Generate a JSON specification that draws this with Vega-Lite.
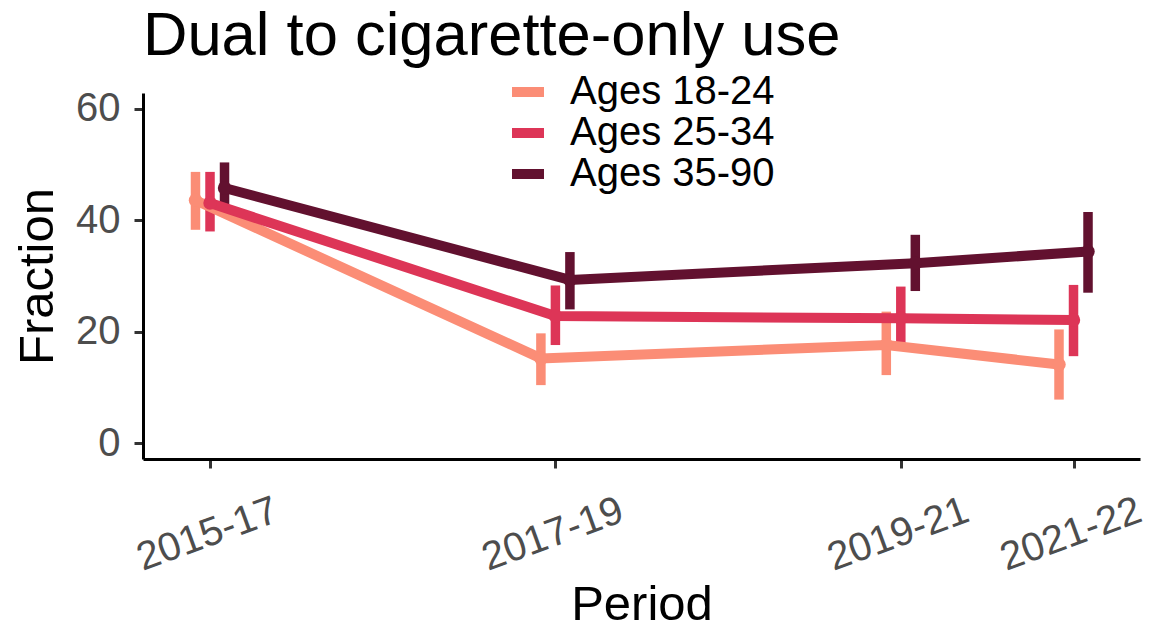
{
  "$schema": "https://vega.github.io/schema/vega-lite/v6.json",
  "width": 997,
  "height": 366,
  "autosize": {"type": "none"},
  "padding": {"left": 143, "top": 93, "right": 13, "bottom": 167},
  "background": "white",
  "config": {
    "view": {"stroke": null},
    "font": "Liberation Sans"
  },
  "title": {
    "text": "Dual to cigarette-only use",
    "anchor": "start",
    "frame": "group",
    "fontSize": 61.5,
    "fontWeight": "normal",
    "color": "black",
    "font": "Liberation Sans",
    "baseline": "alphabetic",
    "offset": -45
  },
  "data": {
    "values": [
      {"period": "2015-17", "mid": 2016, "group": "Ages 18-24", "est": 43.6, "lo": 38.3, "hi": 48.7},
      {"period": "2017-19", "mid": 2018, "group": "Ages 18-24", "est": 15.2, "lo": 10.4, "hi": 19.7},
      {"period": "2019-21", "mid": 2020, "group": "Ages 18-24", "est": 17.6, "lo": 12.2, "hi": 23.6},
      {"period": "2021-22", "mid": 2021, "group": "Ages 18-24", "est": 14.1, "lo": 7.8, "hi": 20.4},
      {"period": "2015-17", "mid": 2016, "group": "Ages 25-34", "est": 43.1, "lo": 38.0, "hi": 48.7},
      {"period": "2017-19", "mid": 2018, "group": "Ages 25-34", "est": 22.8, "lo": 17.6, "hi": 28.3},
      {"period": "2019-21", "mid": 2020, "group": "Ages 25-34", "est": 22.4, "lo": 16.7, "hi": 28.1},
      {"period": "2021-22", "mid": 2021, "group": "Ages 25-34", "est": 22.1, "lo": 15.6, "hi": 28.4},
      {"period": "2015-17", "mid": 2016, "group": "Ages 35-90", "est": 45.8, "lo": 41.0, "hi": 50.4},
      {"period": "2017-19", "mid": 2018, "group": "Ages 35-90", "est": 29.3, "lo": 24.0, "hi": 34.3},
      {"period": "2019-21", "mid": 2020, "group": "Ages 35-90", "est": 32.3, "lo": 27.3, "hi": 37.4},
      {"period": "2021-22", "mid": 2021, "group": "Ages 35-90", "est": 34.4, "lo": 27.0, "hi": 41.5}
    ]
  },
  "transform": [
    {"calculate": "datum.mid + (datum.group === 'Ages 18-24' ? -0.084 : datum.group === 'Ages 35-90' ? 0.084 : 0)", "as": "xd"}
  ],
  "encoding": {
    "x": {
      "field": "xd",
      "type": "quantitative",
      "scale": {"domain": [2015.612, 2021.385], "nice": false, "zero": false},
      "axis": {
        "title": "Period",
        "titleFontSize": 49,
        "titleFontWeight": "normal",
        "titleColor": "black",
        "titleX": 498.5,
        "titleY": 160,
        "titleAlign": "center",
        "titleBaseline": "alphabetic",
        "values": [2016, 2018, 2020, 2021],
        "labelExpr": "datum.value == 2016 ? '2015-17' : datum.value == 2018 ? '2017-19' : datum.value == 2020 ? '2019-21' : '2021-22'",
        "labelFontSize": 40,
        "labelColor": "#4D4D4D",
        "labelAngle": -20,
        "labelAlign": "center",
        "labelBaseline": "middle",
        "labelPadding": 66,
        "labelOffset": -3,
        "labelFlush": false,
        "labelOverlap": false,
        "labelLimit": 400,
        "grid": false,
        "domainColor": "black",
        "domainWidth": 3,
        "tickColor": "#333333",
        "tickWidth": 3,
        "tickSize": 9
      }
    },
    "color": {
      "field": "group",
      "type": "nominal",
      "scale": {
        "domain": ["Ages 18-24", "Ages 25-34", "Ages 35-90"],
        "range": ["#FB8D76", "#DD3557", "#62112F"]
      },
      "legend": {
        "title": null,
        "orient": "none",
        "legendX": 364,
        "legendY": -22,
        "padding": 0,
        "symbolType": "stroke",
        "symbolSize": 1024,
        "symbolStrokeWidth": 10,
        "symbolOpacity": 1,
        "labelFontSize": 40,
        "labelColor": "black",
        "labelOffset": 21,
        "labelLimit": 500,
        "rowPadding": -2
      }
    }
  },
  "layer": [
    {
      "mark": {"type": "rule", "strokeWidth": 9.5},
      "encoding": {
        "y": {"field": "lo", "type": "quantitative"},
        "y2": {"field": "hi"}
      }
    },
    {
      "mark": {"type": "line", "strokeWidth": 10},
      "encoding": {
        "y": {"field": "est", "type": "quantitative"},
        "detail": {"field": "group"},
        "order": {"field": "mid", "type": "quantitative"}
      }
    },
    {
      "mark": {"type": "point", "filled": true, "shape": "circle", "size": 180, "opacity": 1},
      "encoding": {
        "y": {
          "field": "est",
          "type": "quantitative",
          "scale": {"domain": [-2.87, 62.87], "nice": false, "zero": false},
          "axis": {
            "title": "Fraction",
            "titleFontSize": 49,
            "titleFontWeight": "normal",
            "titleColor": "black",
            "titleAngle": -90,
            "titleX": -91,
            "titleY": 183,
            "titleAlign": "center",
            "titleBaseline": "alphabetic",
            "values": [0, 20, 40, 60],
            "labelFontSize": 40,
            "labelColor": "#4D4D4D",
            "labelPadding": 14,
            "grid": false,
            "domainColor": "black",
            "domainWidth": 3,
            "tickColor": "#333333",
            "tickWidth": 3,
            "tickSize": 9
          }
        }
      }
    }
  ]
}
